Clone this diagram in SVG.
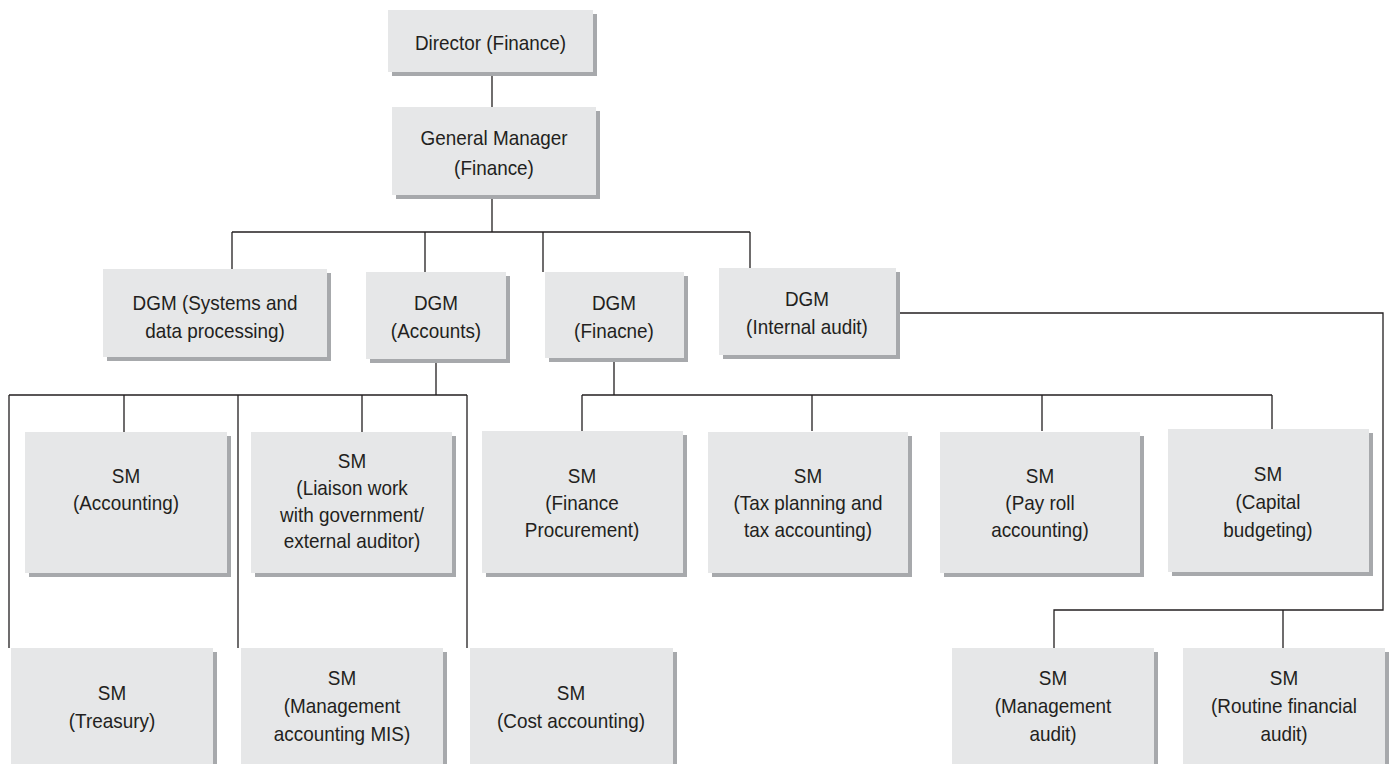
<svg xmlns="http://www.w3.org/2000/svg" width="1389" height="764" viewBox="0 0 1389 764">
<defs>
<style>
.sh{fill:#a7a9ac}
.bx{fill:#e6e7e8}
.t{font-family:"Liberation Sans",Arial,sans-serif;font-size:21px;fill:#231f20;text-anchor:middle}
.c{fill:none;stroke:#231f20;stroke-width:1.3}
</style>
</defs>
<rect width="1389" height="764" fill="#ffffff"/>
<g id="connectors" class="c">
<path d="M492 76V107"/>
<path d="M492 199V232"/>
<path d="M232 232H750M232 232V269M425 232V272M543 232V272M750 232V268"/>
<path d="M900 313H1383V610H1054V648M1283 610V648"/>
<path d="M436 363V395M9 395H467M9 395V648M124 395V432M238 395V648M362 395V432M467 395V648"/>
<path d="M614 362V395M582 395H1272M582 395V431M812 395V431M1042 395V431M1272 395V431"/>
</g>
<g id="director">
<rect class="sh" x="392" y="14" width="205" height="62"/>
<rect class="bx" x="388" y="10" width="205" height="62"/>
<text class="t" transform="translate(490.5 0) scale(0.9 1)"><tspan x="0" y="50">Director (Finance)</tspan></text>
</g>
<g id="gm">
<rect class="sh" x="396" y="111" width="204" height="88"/>
<rect class="bx" x="392" y="107" width="204" height="88"/>
<text class="t" transform="translate(494 0) scale(0.9 1)"><tspan x="0" y="145">General Manager</tspan><tspan x="0" y="175">(Finance)</tspan></text>
</g>
<g id="dgm-systems">
<rect class="sh" x="107" y="273" width="224" height="88"/>
<rect class="bx" x="103" y="269" width="224" height="88"/>
<text class="t" transform="translate(215 0) scale(0.9 1)"><tspan x="0" y="310">DGM (Systems and</tspan><tspan x="0" y="338">data processing)</tspan></text>
</g>
<g id="dgm-accounts">
<rect class="sh" x="370" y="276" width="140" height="87"/>
<rect class="bx" x="366" y="272" width="140" height="87"/>
<text class="t" transform="translate(436 0) scale(0.9 1)"><tspan x="0" y="310">DGM</tspan><tspan x="0" y="338">(Accounts)</tspan></text>
</g>
<g id="dgm-finacne">
<rect class="sh" x="549" y="276" width="139" height="86"/>
<rect class="bx" x="545" y="272" width="139" height="86"/>
<text class="t" transform="translate(614 0) scale(0.9 1)"><tspan x="0" y="310">DGM</tspan><tspan x="0" y="338">(Finacne)</tspan></text>
</g>
<g id="dgm-internal-audit">
<rect class="sh" x="723" y="272" width="177" height="87"/>
<rect class="bx" x="719" y="268" width="177" height="87"/>
<text class="t" transform="translate(807 0) scale(0.9 1)"><tspan x="0" y="306">DGM</tspan><tspan x="0" y="334">(Internal audit)</tspan></text>
</g>
<g id="sm-accounting">
<rect class="sh" x="29" y="436" width="202" height="141"/>
<rect class="bx" x="25" y="432" width="202" height="141"/>
<text class="t" transform="translate(126 0) scale(0.9 1)"><tspan x="0" y="483">SM</tspan><tspan x="0" y="510">(Accounting)</tspan></text>
</g>
<g id="sm-liaison">
<rect class="sh" x="255" y="436" width="201" height="141"/>
<rect class="bx" x="251" y="432" width="201" height="141"/>
<text class="t" transform="translate(352 0) scale(0.9 1)"><tspan x="0" y="468">SM</tspan><tspan x="0" y="495">(Liaison work</tspan><tspan x="0" y="522">with government/</tspan><tspan x="0" y="548">external auditor)</tspan></text>
</g>
<g id="sm-finance-procurement">
<rect class="sh" x="486" y="435" width="201" height="142"/>
<rect class="bx" x="482" y="431" width="201" height="142"/>
<text class="t" transform="translate(582 0) scale(0.9 1)"><tspan x="0" y="483">SM</tspan><tspan x="0" y="510">(Finance</tspan><tspan x="0" y="537">Procurement)</tspan></text>
</g>
<g id="sm-tax">
<rect class="sh" x="712" y="436" width="200" height="141"/>
<rect class="bx" x="708" y="432" width="200" height="141"/>
<text class="t" transform="translate(808 0) scale(0.9 1)"><tspan x="0" y="483">SM</tspan><tspan x="0" y="510">(Tax planning and</tspan><tspan x="0" y="537">tax accounting)</tspan></text>
</g>
<g id="sm-payroll">
<rect class="sh" x="944" y="436" width="200" height="141"/>
<rect class="bx" x="940" y="432" width="200" height="141"/>
<text class="t" transform="translate(1040 0) scale(0.9 1)"><tspan x="0" y="483">SM</tspan><tspan x="0" y="510">(Pay roll</tspan><tspan x="0" y="537">accounting)</tspan></text>
</g>
<g id="sm-capital">
<rect class="sh" x="1172" y="433" width="201" height="143"/>
<rect class="bx" x="1168" y="429" width="201" height="143"/>
<text class="t" transform="translate(1268 0) scale(0.9 1)"><tspan x="0" y="481">SM</tspan><tspan x="0" y="509">(Capital</tspan><tspan x="0" y="537">budgeting)</tspan></text>
</g>
<g id="sm-treasury">
<rect class="sh" x="15" y="652" width="202" height="120"/>
<rect class="bx" x="11" y="648" width="202" height="120"/>
<text class="t" transform="translate(112 0) scale(0.9 1)"><tspan x="0" y="700">SM</tspan><tspan x="0" y="728">(Treasury)</tspan></text>
</g>
<g id="sm-mis">
<rect class="sh" x="245" y="652" width="202" height="120"/>
<rect class="bx" x="241" y="648" width="202" height="120"/>
<text class="t" transform="translate(342 0) scale(0.9 1)"><tspan x="0" y="685">SM</tspan><tspan x="0" y="713">(Management</tspan><tspan x="0" y="741">accounting MIS)</tspan></text>
</g>
<g id="sm-cost">
<rect class="sh" x="474" y="652" width="203" height="120"/>
<rect class="bx" x="470" y="648" width="203" height="120"/>
<text class="t" transform="translate(571 0) scale(0.9 1)"><tspan x="0" y="700">SM</tspan><tspan x="0" y="728">(Cost accounting)</tspan></text>
</g>
<g id="sm-mgmt-audit">
<rect class="sh" x="956" y="652" width="202" height="120"/>
<rect class="bx" x="952" y="648" width="202" height="120"/>
<text class="t" transform="translate(1053 0) scale(0.9 1)"><tspan x="0" y="685">SM</tspan><tspan x="0" y="713">(Management</tspan><tspan x="0" y="741">audit)</tspan></text>
</g>
<g id="sm-routine-audit">
<rect class="sh" x="1187" y="652" width="202" height="120"/>
<rect class="bx" x="1183" y="648" width="202" height="120"/>
<text class="t" transform="translate(1284 0) scale(0.9 1)"><tspan x="0" y="685">SM</tspan><tspan x="0" y="713">(Routine financial</tspan><tspan x="0" y="741">audit)</tspan></text>
</g>
</svg>
